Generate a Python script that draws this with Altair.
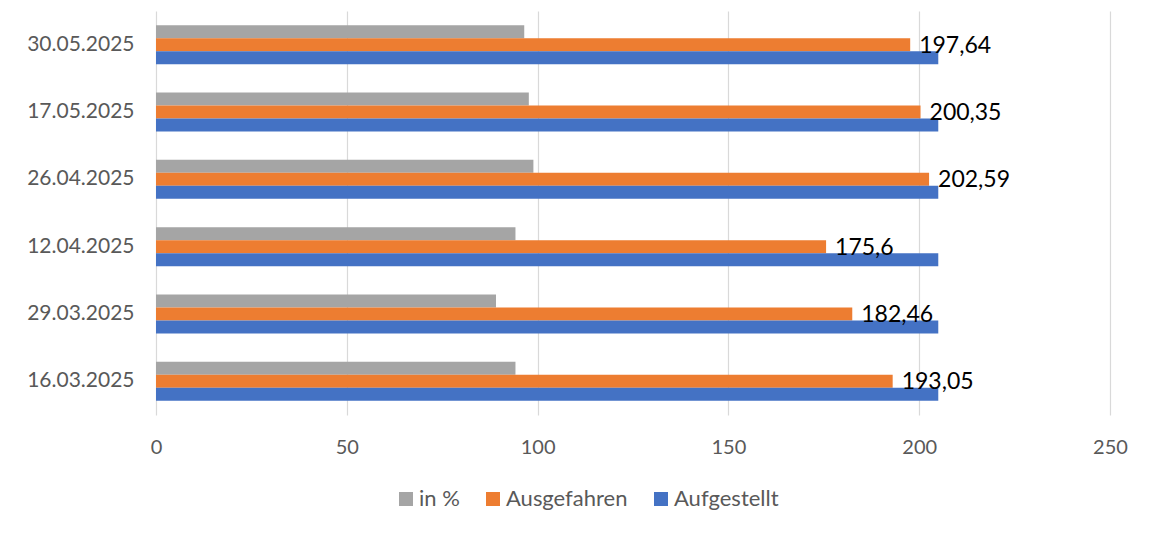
import altair as alt
import pandas as pd

dates = ["30.05.2025", "17.05.2025", "26.04.2025", "12.04.2025", "29.03.2025", "16.03.2025"]
in_pct = [96.5, 97.7, 98.9, 94.2, 89.1, 94.2]
ausgefahren = [197.64, 200.35, 202.59, 175.6, 182.46, 193.05]
aufgestellt = [205, 205, 205, 205, 205, 205]
series = ["in %", "Ausgefahren", "Aufgestellt"]
colors = ["#A5A5A5", "#ED7D31", "#4472C4"]
x_ticks = [0, 50, 100, 150, 200, 250]

rows = []
for i, d in enumerate(dates):
    rows.append({"date": d, "series": "in %", "value": in_pct[i]})
    rows.append({"date": d, "series": "Ausgefahren", "value": ausgefahren[i]})
    rows.append({"date": d, "series": "Aufgestellt", "value": aufgestellt[i]})
df = pd.DataFrame(rows)

lab = pd.DataFrame({
    "date": dates,
    "series": ["Ausgefahren"] * len(dates),
    "value": ausgefahren,
    "label": [str(v).replace(".", ",") for v in ausgefahren],
})

FONT = "Lato"
TXT = "#595959"

y_enc = alt.Y("date:N", sort=dates, title=None,
              scale=alt.Scale(paddingInner=0.42, paddingOuter=0.21),
              axis=alt.Axis(labelFontSize=21, labelColor=TXT, labelFont=FONT,
                            ticks=False, domain=False, labelPadding=22))
yoff = alt.YOffset("series:N", sort=series,
                   scale=alt.Scale(domain=series, paddingInner=0, paddingOuter=0))

bars = alt.Chart(df).mark_bar(cornerRadius=0).encode(
    x=alt.X("value:Q", title=None,
            scale=alt.Scale(domain=[0, 250], nice=False, zero=True),
            axis=alt.Axis(values=x_ticks, grid=True, gridColor="#D9D9D9", gridWidth=1.2,
                          ticks=False, domain=False, labelFontSize=20, labelColor=TXT,
                          labelFont=FONT, labelPadding=22, labelFlush=False)),
    y=y_enc,
    yOffset=yoff,
    color=alt.Color("series:N", sort=series,
                    scale=alt.Scale(domain=series, range=colors),
                    legend=alt.Legend(title=None, orient="none", direction="horizontal",
                                      legendX=239, legendY=477, symbolType="square",
                                      symbolSize=196, symbolStrokeWidth=0,
                                      labelFontSize=22, labelColor=TXT, labelFont=FONT,
                                      labelOffset=2, columnPadding=22)),
)

text = alt.Chart(lab).mark_text(align="left", baseline="middle", dx=9, dy=1,
                                fontSize=23, font=FONT, color="#000000").encode(
    x=alt.X("value:Q"),
    y=alt.Y("date:N", sort=dates),
    yOffset=alt.YOffset("series:N", sort=series),
    text="label:N",
)

chart = alt.layer(bars, text).properties(
    width=954, height=404,
    background="white",
    autosize=alt.AutoSizeParams(type="none"),
    padding={"left": 148, "top": 3, "right": 40, "bottom": 110},
).configure_view(stroke=None)

chart.save("out.html", embed_options={"renderer": "svg", "actions": False})
